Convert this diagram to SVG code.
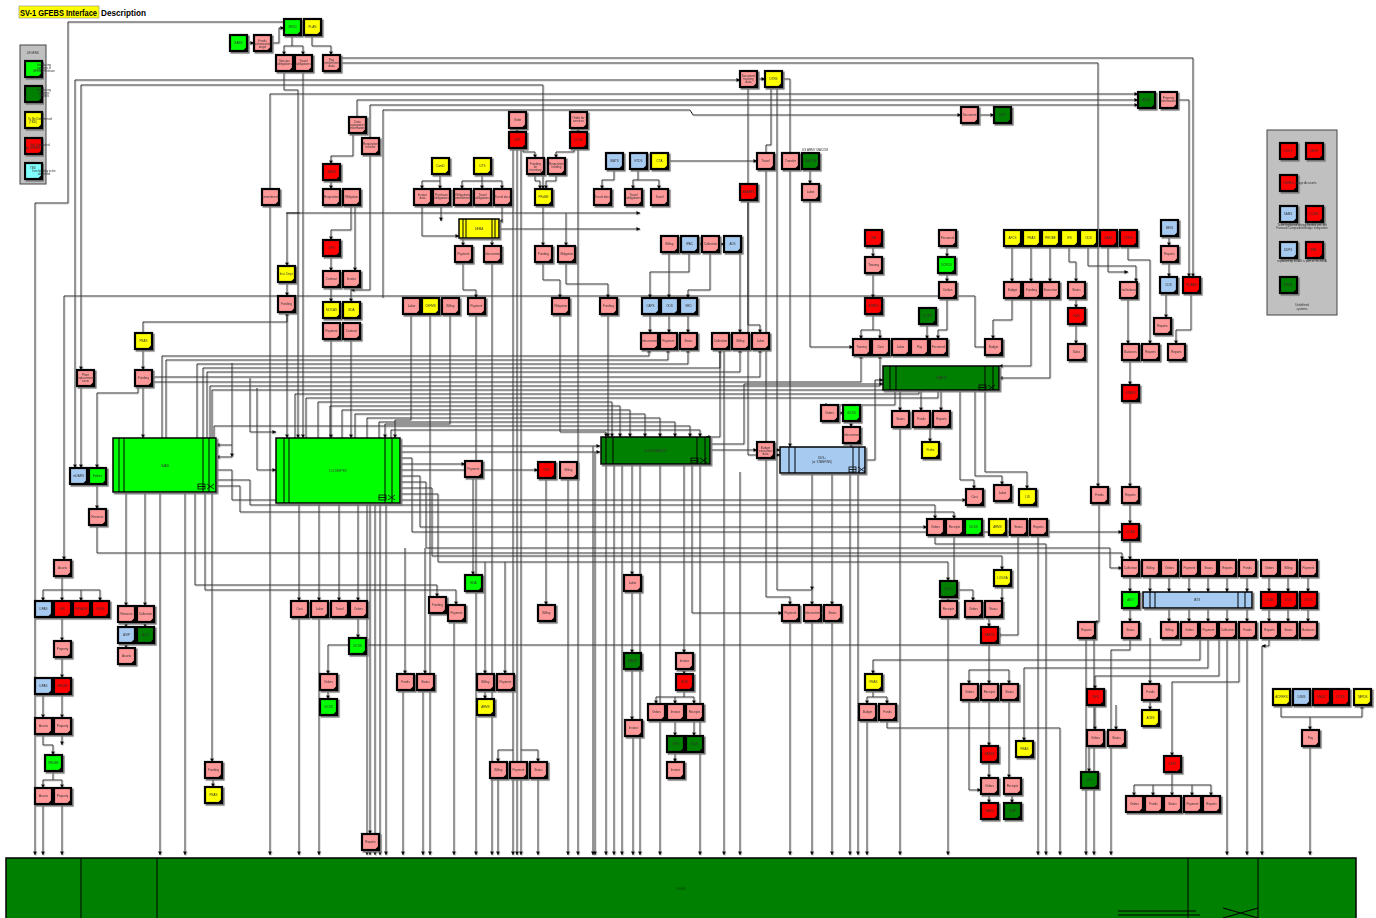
<svg xmlns="http://www.w3.org/2000/svg" xmlns:xlink="http://www.w3.org/1999/xlink" width="1376" height="918" viewBox="0 0 1376 918">
<style>
.p{fill:#f99}.r{fill:#f00}.y{fill:#ff0}.g{fill:#0f0}.d{fill:#008000}.b{fill:#a6caf0}.c{fill:#80ffff}
.t{font-family:"Liberation Sans",Arial,sans-serif;font-size:3px;fill:#333;text-anchor:middle}
.bt{font-family:"Liberation Sans",Arial,sans-serif;font-size:4px;fill:#333;text-anchor:middle}
.big{stroke:#000;stroke-width:1.5}
.il{stroke:#000;stroke-width:1;fill:none}
#connectors{fill:none;stroke:#000;stroke-width:1;marker-end:url(#a)}
</style>
<defs>
<filter id="ds" x="-5%" y="-5%" width="115%" height="115%"><feDropShadow dx="1.6" dy="1.6" stdDeviation="0.5" flood-color="#777"/></filter>
<filter id="ls"><feDropShadow dx="0.7" dy="0.7" stdDeviation="0.2" flood-color="#bbb"/></filter>
<marker id="a" markerWidth="4" markerHeight="4" refX="3.6" refY="2" orient="auto" markerUnits="userSpaceOnUse"><path d="M0,0 L4,2 L0,4Z" fill="#000"/></marker>
<g id="bx"><rect x="0" y="0" width="17" height="16" stroke="#000" stroke-width="2.2"/><path d="M12.5,16 L17,11.5 V16Z" fill="#000"/></g>
<g id="ic"><rect x="0" y="0" width="7" height="5" fill="none" stroke="#000" stroke-width="0.8"/><line x1="0" y1="2.5" x2="7" y2="2.5" stroke="#000" stroke-width="0.8"/><path d="M9,0 L16,5 M9,5 L16,0" stroke="#000" stroke-width="0.8"/></g>
</defs>
<rect width="1376" height="918" fill="#fff"/>

<g id="title">
<rect x="19" y="6" width="80" height="12" fill="#ff0" stroke="#888" stroke-width="0.6"/>
<text x="20" y="15.5" textLength="77" lengthAdjust="spacingAndGlyphs" style="font-family:'Liberation Sans',Arial,sans-serif;font-size:8.2px;font-weight:bold">SV-1 GFEBS Interface</text>
<text x="101" y="15.5" style="font-family:'Liberation Sans',Arial,sans-serif;font-size:8.2px;font-weight:bold">Description</text>
</g>

<g id="connectors" filter="url(#ls)">
<path d="M284,22 H68 V203 H35 V855"/>
<path d="M271,43 H279 V28 H284"/>
<path d="M246,43 H254"/>
<path d="M292,36 V46 H284 V55"/>
<path d="M292,46 H303 V55"/>
<path d="M312,36 V46 H331 V55"/>
<path d="M340,58 H1193 V277"/>
<path d="M340,63 H1098 V487"/>
<path d="M75,80 H740" />
<path d="M75,80 V468"/>
<path d="M81,85 H543 V189"/>
<path d="M81,85 V370"/>
<path d="M284,71 V90 H298 V438"/>
<path d="M303,71 V438"/>
<path d="M270,189 V94 H1138"/>
<path d="M357,117 V100 H1138"/>
<path d="M370,138 V105 H1138"/>
<path d="M383,298 V110 H690 L693,115 H961"/>
<path d="M757,79 H765"/>
<path d="M748,87 V455 H780"/>
<path d="M771,87 V145 H766 V597 H790 V605"/>
<path d="M777,87 V590 H812 V605"/>
<path d="M782,79 H790 V447"/>
<path d="M1177,100 H1189 V277"/>
<path d="M977,115 H994"/>
<path d="M985,347 H975 V296 H64 V560"/>
<path d="M143,333 V322 H287 V312"/>
<path d="M287,282 V296"/>
<path d="M300,213 H287 V266"/>
<path d="M286,213 H640"/>
<path d="M270,205 V855"/>
<path d="M143,349 V370"/>
<path d="M143,386 V438"/>
<path d="M81,386 V468"/>
<path d="M138,386 V393 H97 V468"/>
<path d="M97,484 V509"/>
<path d="M97,525 V553 H1122 V560"/>
<path d="M162,438 V356 H649 V349"/>
<path d="M166,438 V360 H668 V349"/>
<path d="M197,438 V364 H688 V349"/>
<path d="M203,438 V368 H720 V349"/>
<path d="M207,438 V372 H740 V349"/>
<path d="M151,377 H760 V349"/>
<path d="M151,382 H861 V355"/>
<path d="M210,438 V386 H880 V355"/>
<path d="M212,438 V390 H900 V366"/>
<path d="M295,438 V394 H919 V366"/>
<path d="M306,438 V398 H938 V366"/>
<path d="M318,438 V402 H612 V437"/>
<path d="M330,438 V406 H620 V437"/>
<path d="M342,438 V410 H630 V437"/>
<path d="M355,438 V414 H645 V437"/>
<path d="M367,438 V418 H660 V437"/>
<path d="M379,438 V422 H675 V437"/>
<path d="M214,438 V426 H690 V437"/>
<path d="M391,438 V430 H700 V437"/>
<path d="M232,445 H216"/>
<path d="M232,457 H216"/>
<path d="M232,363 V457"/>
<path d="M250,378 V432 H276"/>
<path d="M257,388 V470 H276"/>
<path d="M331,339 V438"/>
<path d="M351,339 V438"/>
<path d="M287,312 V438"/>
<path d="M411,314 V420 H395 V438"/>
<path d="M430,314 V855"/>
<path d="M450,314 V424 H385 V438"/>
<path d="M476,314 V855"/>
<path d="M560,314 V432 H606 V437"/>
<path d="M608,314 V437"/>
<path d="M650,314 V333"/>
<path d="M669,314 V333"/>
<path d="M688,314 V333"/>
<path d="M720,349 V437 H706"/>
<path d="M513,148 V855"/>
<path d="M517,148 V855"/>
<path d="M521,148 V855"/>
<path d="M578,148 V855"/>
<path d="M463,262 V290 H476 V298"/>
<path d="M492,262 V855"/>
<path d="M543,262 V280 H560 V298"/>
<path d="M566,262 V284 H608 V298"/>
<path d="M669,252 V298"/>
<path d="M689,252 V272 H650 V298"/>
<path d="M710,252 V290 H688 V298"/>
<path d="M740,252 V333"/>
<path d="M810,200 V347 H853"/>
<path d="M748,200 V325 H760 V333"/>
<path d="M331,180 V189"/>
<path d="M353,133 V156 H331 V164"/>
<path d="M351,205 V230 H331 V240"/>
<path d="M355,205 V271"/>
<path d="M331,256 V271"/>
<path d="M331,287 V302"/>
<path d="M351,287 V302"/>
<path d="M370,154 V290 H351"/>
<path d="M517,128 V132"/>
<path d="M578,128 V132"/>
<path d="M523,148 V152 H535 V158"/>
<path d="M574,148 V152 H556 V158"/>
<path d="M535,174 V181 H540 V189"/>
<path d="M556,174 V181 H546 V189"/>
<path d="M440,174 V181 H422 V189"/>
<path d="M440,181 V189"/>
<path d="M482,174 V181 H462 V189"/>
<path d="M482,181 V189"/>
<path d="M482,181 H502 V189"/>
<path d="M614,169 V180 H602 V189"/>
<path d="M638,169 V180 H633 V189"/>
<path d="M638,180 H659 V189"/>
<path d="M667,161 H757"/>
<path d="M799,161 H802"/>
<path d="M810,169 V184"/>
<path d="M422,205 V236 H459"/>
<path d="M441,205 V221"/>
<path d="M502,205 V221 H499"/>
<path d="M499,229 H640"/>
<path d="M463,238 V246"/>
<path d="M492,238 V246"/>
<path d="M543,205 V246"/>
<path d="M566,213 V246"/>
<path d="M678,244 H681"/>
<path d="M698,244 H702"/>
<path d="M719,244 H724"/>
<path d="M873,246 V257"/>
<path d="M947,246 V257"/>
<path d="M873,273 V298"/>
<path d="M947,273 V282"/>
<path d="M947,298 V330 H938 V339"/>
<path d="M873,314 V330 H861 V339"/>
<path d="M873,330 H880 V339"/>
<path d="M927,324 V339"/>
<path d="M1012,246 V282"/>
<path d="M1031,246 V282"/>
<path d="M1050,246 V282"/>
<path d="M1069,246 V262 H1076 V282"/>
<path d="M1088,246 V266 H1136 V282"/>
<path d="M1108,246 V272 H1128"/>
<path d="M1128,246 V260 H1150 V344"/>
<path d="M1076,298 V308"/>
<path d="M1076,324 V344"/>
<path d="M1169,236 V246"/>
<path d="M1169,262 V277"/>
<path d="M1166,293 V318"/>
<path d="M1191,293 V330 H1176 V344"/>
<path d="M1128,298 V344"/>
<path d="M1130,360 V385"/>
<path d="M1130,401 V487"/>
<path d="M1130,503 V524"/>
<path d="M1130,540 V560"/>
<path d="M1012,298 V320 H993 V339"/>
<path d="M1031,298 V366 H999"/>
<path d="M1050,298 V378 H999"/>
<path d="M1150,576 V592"/>
<path d="M1169,576 V592"/>
<path d="M1189,576 V592"/>
<path d="M1208,576 V592"/>
<path d="M1227,576 V592"/>
<path d="M1247,576 V592"/>
<path d="M1269,576 V592"/>
<path d="M1288,576 V592"/>
<path d="M1308,576 V592"/>
<path d="M1130,576 V592"/>
<path d="M1130,608 V622"/>
<path d="M1169,608 V622"/>
<path d="M1189,608 V622"/>
<path d="M1208,608 V622"/>
<path d="M1227,608 V622"/>
<path d="M1247,608 V622"/>
<path d="M1269,608 V622"/>
<path d="M1288,608 V622"/>
<path d="M1308,608 V622"/>
<path d="M1086,638 V855"/>
<path d="M1130,638 V650 H1111 V855"/>
<path d="M1227,638 V855"/>
<path d="M1247,638 V855"/>
<path d="M1262,646 V855"/>
<path d="M1269,638 V646 H1262"/>
<path d="M1181,638 V645 H328 V674"/>
<path d="M1200,638 V660 H873 V674"/>
<path d="M1208,638 V668 H1024 V741"/>
<path d="M1219,638 V676 H1095 V689"/>
<path d="M1239,638 V682 H1172 V756"/>
<path d="M1150,638 V684"/>
<path d="M1095,705 V730"/>
<path d="M1116,705 V730"/>
<path d="M1089,746 V772"/>
<path d="M1150,700 V710"/>
<path d="M1172,772 V785 H1134 V796"/>
<path d="M1172,785 H1211 V796"/>
<path d="M1153,785 V796"/>
<path d="M1172,785 V796"/>
<path d="M1192,785 V796"/>
<path d="M1281,705 V717 H1362 V705"/>
<path d="M1310,717 V730"/>
<path d="M1310,746 V855"/>
<path d="M900,390 V411"/>
<path d="M921,390 V411"/>
<path d="M941,390 V411"/>
<path d="M930,427 V442"/>
<path d="M838,413 H843"/>
<path d="M851,421 V427"/>
<path d="M851,443 V447"/>
<path d="M710,450 H757"/>
<path d="M774,450 H780"/>
<path d="M865,460 H875 V380 H883"/>
<path d="M960,390 V480 H974 V489"/>
<path d="M975,390 V476 H1002 V485"/>
<path d="M985,390 V472 H1027 V489"/>
<path d="M900,427 V855"/>
<path d="M895,390 V405 H829 V405"/>
<path d="M62,576 V590 H43 V601"/>
<path d="M62,590 V601"/>
<path d="M62,590 H81 V601"/>
<path d="M81,590 H100 V601"/>
<path d="M62,617 V641"/>
<path d="M62,657 V678"/>
<path d="M51,686 H54"/>
<path d="M43,694 V718"/>
<path d="M62,694 V718"/>
<path d="M43,734 V745 H53 V755"/>
<path d="M62,734 V745"/>
<path d="M53,771 V780 H43 V788"/>
<path d="M53,780 H62 V788"/>
<path d="M43,804 V855"/>
<path d="M62,804 V855"/>
<path d="M126,492 V606"/>
<path d="M145,492 V606"/>
<path d="M126,622 V627"/>
<path d="M126,643 V648"/>
<path d="M145,622 V627"/>
<path d="M160,492 V855"/>
<path d="M185,492 V855"/>
<path d="M195,492 V585 H437 V597"/>
<path d="M205,492 V590 H456 V605"/>
<path d="M212,492 V762"/>
<path d="M213,778 V787"/>
<path d="M299,503 V601"/>
<path d="M319,503 V601"/>
<path d="M339,503 V601"/>
<path d="M358,503 V601"/>
<path d="M299,617 V855"/>
<path d="M319,617 V855"/>
<path d="M358,617 V638"/>
<path d="M328,690 V699"/>
<path d="M367,503 V855"/>
<path d="M370,503 V834"/>
<path d="M375,503 V855"/>
<path d="M380,503 V855"/>
<path d="M386,503 V855"/>
<path d="M370,850 V855"/>
<path d="M405,548 V674"/>
<path d="M425,548 V674"/>
<path d="M403,690 V855"/>
<path d="M423,690 V855"/>
<path d="M454,621 V855"/>
<path d="M473,477 V575"/>
<path d="M485,562 V674"/>
<path d="M505,562 V674"/>
<path d="M485,690 V699"/>
<path d="M513,750 H498 V762"/>
<path d="M521,750 H538 V762"/>
<path d="M498,778 V855"/>
<path d="M538,778 V855"/>
<path d="M546,478 V605"/>
<path d="M568,478 V855"/>
<path d="M632,464 V575"/>
<path d="M632,591 V653"/>
<path d="M632,669 V720"/>
<path d="M633,736 V855"/>
<path d="M684,464 V653"/>
<path d="M684,669 V674"/>
<path d="M684,690 V697 H656 V704"/>
<path d="M675,697 V704"/>
<path d="M684,697 H694 V704"/>
<path d="M675,720 V736"/>
<path d="M694,720 V736"/>
<path d="M675,752 V762"/>
<path d="M606,464 V855"/>
<path d="M614,464 V855"/>
<path d="M622,464 V855"/>
<path d="M640,464 V855"/>
<path d="M660,464 V855"/>
<path d="M692,464 V613 H782"/>
<path d="M700,464 V855"/>
<path d="M593,446 V855"/>
<path d="M595,452 V855"/>
<path d="M812,473 V590"/>
<path d="M832,473 V605"/>
<path d="M850,473 V855"/>
<path d="M858,473 V855"/>
<path d="M790,621 V855"/>
<path d="M812,621 V855"/>
<path d="M832,621 V855"/>
<path d="M724,349 V855"/>
<path d="M740,472 V855"/>
<path d="M873,690 V697 H867 V704"/>
<path d="M873,697 H887 V704"/>
<path d="M887,720 V728 H1060 V855"/>
<path d="M867,720 V855"/>
<path d="M216,480 H250 V505 H935 V519"/>
<path d="M216,486 H240 V512 H954 V519"/>
<path d="M216,470 H232 V500 H966"/>
<path d="M400,446 H600"/>
<path d="M400,452 H600"/>
<path d="M400,458 H412 V532 H1122"/>
<path d="M400,464 H465"/>
<path d="M400,470 H538"/>
<path d="M400,476 H420 V527 H927"/>
<path d="M400,482 H426 V548 H1110 V568 H1122"/>
<path d="M400,488 H432 V556 H1002 V570"/>
<path d="M400,494 H438 V562 H948 V581"/>
<path d="M710,444 H744 V384 H883"/>
<path d="M948,597 V601"/>
<path d="M1002,586 V601"/>
<path d="M954,535 V590 H973 V601"/>
<path d="M1018,535 V635 H997"/>
<path d="M1038,535 V855"/>
<path d="M935,535 V544 H1046 V855"/>
<path d="M989,617 V627"/>
<path d="M989,643 V670 H969 V684"/>
<path d="M989,670 V684"/>
<path d="M989,670 H1009 V684"/>
<path d="M989,700 V746"/>
<path d="M969,700 V790 H981"/>
<path d="M1009,700 V778"/>
<path d="M989,762 V778"/>
<path d="M989,794 V803"/>
<path d="M1012,794 V803"/>
<path d="M948,617 V855"/>
<path d="M1099,503 V622 H1094"/>
<path d="M1094,622 V855"/>
</g>

<g id="nodes" filter="url(#ds)">
<g id="n1" transform="translate(230,35)"><use href="#bx" class="g"/><text x="8.5" y="9" class="t">EABS</text></g>
<g id="n2" transform="translate(254,35)"><use href="#bx" class="p"/><text x="8.5" y="7" class="t">Funds</text><text x="8.5" y="10" class="t">authorization</text><text x="8.5" y="13" class="t">target</text></g>
<g id="n3" transform="translate(284,19)"><use href="#bx" class="g"/><text x="8.5" y="9" class="t">GFDD</text></g>
<g id="n4" transform="translate(304,19)"><use href="#bx" class="y"/><text x="8.5" y="9" class="t">PLAN</text></g>
<g id="n5" transform="translate(276,55)"><use href="#bx" class="p"/><text x="8.5" y="7" class="t">Non-tax</text><text x="8.5" y="10" class="t">obligations</text></g>
<g id="n6" transform="translate(295,55)"><use href="#bx" class="p"/><text x="8.5" y="7" class="t">Travel</text><text x="8.5" y="10" class="t">obligations</text></g>
<g id="n7" transform="translate(323,55)"><use href="#bx" class="p"/><text x="8.5" y="6" class="t">Pay</text><text x="8.5" y="9" class="t">entitlement</text><text x="8.5" y="12" class="t">data</text></g>
<g id="n8" transform="translate(740,71)"><use href="#bx" class="p"/><text x="8.5" y="6" class="t">Document</text><text x="8.5" y="9" class="t">tracking</text><text x="8.5" y="12" class="t">data</text></g>
<g id="n9" transform="translate(765,71)"><use href="#bx" class="y"/><text x="8.5" y="9" class="t">DTRS</text></g>
<g id="n10" transform="translate(1138,92)"><use href="#bx" class="d"/><text x="8.5" y="9" class="t">AEMS</text></g>
<g id="n11" transform="translate(1160,92)"><use href="#bx" class="p"/><text x="8.5" y="7" class="t">Property</text><text x="8.5" y="10" class="t">information</text></g>
<g id="n12" transform="translate(961,107)"><use href="#bx" class="p"/><text x="8.5" y="9" class="t">Document</text></g>
<g id="n13" transform="translate(994,107)"><use href="#bx" class="d"/><text x="8.5" y="9" class="t">DMT</text></g>
<g id="n14" transform="translate(349,117)"><use href="#bx" class="p"/><text x="8.5" y="6" class="t">Data</text><text x="8.5" y="9" class="t">management</text><text x="8.5" y="12" class="t">information</text></g>
<g id="n15" transform="translate(362,138)"><use href="#bx" class="p"/><text x="8.5" y="7" class="t">Requisition</text><text x="8.5" y="10" class="t">transfer</text></g>
<g id="n16" transform="translate(509,112)"><use href="#bx" class="p"/><text x="8.5" y="9" class="t">Order</text></g>
<g id="n17" transform="translate(509,132)"><use href="#bx" class="r"/><text x="8.5" y="9" class="t">DPS</text></g>
<g id="n18" transform="translate(570,112)"><use href="#bx" class="p"/><text x="8.5" y="7" class="t">Order for</text><text x="8.5" y="10" class="t">services</text></g>
<g id="n19" transform="translate(570,132)"><use href="#bx" class="r"/><text x="8.5" y="9" class="t">CCSS</text></g>
<g id="n20" transform="translate(432,158)"><use href="#bx" class="y"/><text x="8.5" y="9" class="t">ComD</text></g>
<g id="n21" transform="translate(474,158)"><use href="#bx" class="y"/><text x="8.5" y="9" class="t">DTS</text></g>
<g id="n22" transform="translate(527,158)"><use href="#bx" class="p"/><text x="8.5" y="7" class="t">Funding</text><text x="8.5" y="10" class="t">for</text><text x="8.5" y="13" class="t">inventory</text></g>
<g id="n23" transform="translate(548,158)"><use href="#bx" class="p"/><text x="8.5" y="7" class="t">Requisition</text><text x="8.5" y="10" class="t">funding</text></g>
<g id="n24" transform="translate(606,153)"><use href="#bx" class="b"/><text x="8.5" y="9" class="t">IBATS</text></g>
<g id="n25" transform="translate(630,153)"><use href="#bx" class="b"/><text x="8.5" y="9" class="t">ETDS</text></g>
<g id="n26" transform="translate(651,153)"><use href="#bx" class="y"/><text x="8.5" y="9" class="t">CTA</text></g>
<g id="n27" transform="translate(757,153)"><use href="#bx" class="p"/><text x="8.5" y="9" class="t">Travel</text></g>
<g id="n28" transform="translate(782,153)"><use href="#bx" class="p"/><text x="8.5" y="9" class="t">Transfer</text></g>
<g id="n29" transform="translate(802,153)"><use href="#bx" class="d"/><text x="8.5" y="9" class="t">MACOM</text></g>
<g id="n30" transform="translate(323,164)"><use href="#bx" class="r"/><text x="8.5" y="9" class="t">SAMS</text></g>
<g id="n31" transform="translate(262,189)"><use href="#bx" class="p"/><text x="8.5" y="9" class="t">Commitments</text></g>
<g id="n32" transform="translate(323,189)"><use href="#bx" class="p"/><text x="8.5" y="9" class="t">Requisition</text></g>
<g id="n33" transform="translate(343,189)"><use href="#bx" class="p"/><text x="8.5" y="9" class="t">Obligation</text></g>
<g id="n34" transform="translate(414,189)"><use href="#bx" class="p"/><text x="8.5" y="7" class="t">Invoice</text><text x="8.5" y="10" class="t">data</text></g>
<g id="n35" transform="translate(433,189)"><use href="#bx" class="p"/><text x="8.5" y="7" class="t">Purchase</text><text x="8.5" y="10" class="t">obligations</text></g>
<g id="n36" transform="translate(454,189)"><use href="#bx" class="p"/><text x="8.5" y="7" class="t">Obligations</text><text x="8.5" y="10" class="t">commitments</text></g>
<g id="n37" transform="translate(474,189)"><use href="#bx" class="p"/><text x="8.5" y="7" class="t">Travel</text><text x="8.5" y="10" class="t">obligations</text></g>
<g id="n38" transform="translate(494,189)"><use href="#bx" class="p"/><text x="8.5" y="9" class="t">Travel docs</text></g>
<g id="n39" transform="translate(535,189)"><use href="#bx" class="y"/><text x="8.5" y="9" class="t">PRoBE</text></g>
<g id="n40" transform="translate(594,189)"><use href="#bx" class="p"/><text x="8.5" y="9" class="t">Travel docs</text></g>
<g id="n41" transform="translate(625,189)"><use href="#bx" class="p"/><text x="8.5" y="7" class="t">Travel</text><text x="8.5" y="10" class="t">obligations</text></g>
<g id="n42" transform="translate(651,189)"><use href="#bx" class="p"/><text x="8.5" y="9" class="t">Travel</text></g>
<g id="n43" transform="translate(740,184)"><use href="#bx" class="r"/><text x="8.5" y="9" class="t">ATAAPS</text></g>
<g id="n44" transform="translate(802,184)"><use href="#bx" class="p"/><text x="8.5" y="9" class="t">Labor</text></g>
<g id="n45" transform="translate(455,246)"><use href="#bx" class="p"/><text x="8.5" y="9" class="t">Payment</text></g>
<g id="n46" transform="translate(484,246)"><use href="#bx" class="p"/><text x="8.5" y="9" class="t">Disbursement</text></g>
<g id="n47" transform="translate(535,246)"><use href="#bx" class="p"/><text x="8.5" y="9" class="t">Funding</text></g>
<g id="n48" transform="translate(558,246)"><use href="#bx" class="p"/><text x="8.5" y="9" class="t">Obligation</text></g>
<g id="n49" transform="translate(323,240)"><use href="#bx" class="r"/><text x="8.5" y="9" class="t">SPS</text></g>
<g id="n50" transform="translate(661,236)"><use href="#bx" class="p"/><text x="8.5" y="9" class="t">Billing</text></g>
<g id="n51" transform="translate(681,236)"><use href="#bx" class="b"/><text x="8.5" y="9" class="t">IPAC</text></g>
<g id="n52" transform="translate(702,236)"><use href="#bx" class="p"/><text x="8.5" y="9" class="t">Collection</text></g>
<g id="n53" transform="translate(724,236)"><use href="#bx" class="b"/><text x="8.5" y="9" class="t">ADS</text></g>
<g id="n54" transform="translate(865,230)"><use href="#bx" class="r"/><text x="8.5" y="9" class="t">ISM</text></g>
<g id="n55" transform="translate(939,230)"><use href="#bx" class="p"/><text x="8.5" y="9" class="t">Personnel</text></g>
<g id="n56" transform="translate(938,257)"><use href="#bx" class="g"/><text x="8.5" y="9" class="t">DCPDS</text></g>
<g id="n57" transform="translate(865,257)"><use href="#bx" class="p"/><text x="8.5" y="9" class="t">Training</text></g>
<g id="n58" transform="translate(1004,230)"><use href="#bx" class="y"/><text x="8.5" y="9" class="t">AFCS</text></g>
<g id="n59" transform="translate(1023,230)"><use href="#bx" class="y"/><text x="8.5" y="9" class="t">PBAS</text></g>
<g id="n60" transform="translate(1042,230)"><use href="#bx" class="y"/><text x="8.5" y="9" class="t">PROBE</text></g>
<g id="n61" transform="translate(1061,230)"><use href="#bx" class="y"/><text x="8.5" y="9" class="t">IFS</text></g>
<g id="n62" transform="translate(1080,230)"><use href="#bx" class="y"/><text x="8.5" y="9" class="t">ODS</text></g>
<g id="n63" transform="translate(1100,230)"><use href="#bx" class="r"/><text x="8.5" y="9" class="t">DAAS</text></g>
<g id="n64" transform="translate(1120,230)"><use href="#bx" class="r"/><text x="8.5" y="9" class="t">DDRS</text></g>
<g id="n65" transform="translate(1161,220)"><use href="#bx" class="b"/><text x="8.5" y="9" class="t">BEIS</text></g>
<g id="n66" transform="translate(1161,246)"><use href="#bx" class="p"/><text x="8.5" y="9" class="t">Reports</text></g>
<g id="n67" transform="translate(278,266)"><use href="#bx" class="y"/><text x="8.5" y="9" class="t">Inst. Dept.</text></g>
<g id="n68" transform="translate(323,271)"><use href="#bx" class="p"/><text x="8.5" y="9" class="t">Contract</text></g>
<g id="n69" transform="translate(343,271)"><use href="#bx" class="p"/><text x="8.5" y="9" class="t">Invoice</text></g>
<g id="n70" transform="translate(1004,282)"><use href="#bx" class="p"/><text x="8.5" y="9" class="t">Budget</text></g>
<g id="n71" transform="translate(1023,282)"><use href="#bx" class="p"/><text x="8.5" y="9" class="t">Funding</text></g>
<g id="n72" transform="translate(1042,282)"><use href="#bx" class="p"/><text x="8.5" y="9" class="t">Execution</text></g>
<g id="n73" transform="translate(1068,282)"><use href="#bx" class="p"/><text x="8.5" y="9" class="t">Status</text></g>
<g id="n74" transform="translate(1120,282)"><use href="#bx" class="p"/><text x="8.5" y="9" class="t">Trial balance</text></g>
<g id="n75" transform="translate(1160,277)"><use href="#bx" class="b"/><text x="8.5" y="9" class="t">CDS</text></g>
<g id="n76" transform="translate(1183,277)"><use href="#bx" class="r"/><text x="8.5" y="9" class="t">HQARS</text></g>
<g id="n77" transform="translate(939,282)"><use href="#bx" class="p"/><text x="8.5" y="9" class="t">Civilian</text></g>
<g id="n78" transform="translate(278,296)"><use href="#bx" class="p"/><text x="8.5" y="9" class="t">Funding</text></g>
<g id="n79" transform="translate(403,298)"><use href="#bx" class="p"/><text x="8.5" y="9" class="t">Labor</text></g>
<g id="n80" transform="translate(422,298)"><use href="#bx" class="y"/><text x="8.5" y="9" class="t">CEFMS</text></g>
<g id="n81" transform="translate(442,298)"><use href="#bx" class="p"/><text x="8.5" y="9" class="t">Billing</text></g>
<g id="n82" transform="translate(468,298)"><use href="#bx" class="p"/><text x="8.5" y="9" class="t">Payment</text></g>
<g id="n83" transform="translate(552,298)"><use href="#bx" class="p"/><text x="8.5" y="9" class="t">Obligation</text></g>
<g id="n84" transform="translate(600,298)"><use href="#bx" class="p"/><text x="8.5" y="9" class="t">Funding</text></g>
<g id="n85" transform="translate(642,298)"><use href="#bx" class="b"/><text x="8.5" y="9" class="t">CAPS</text></g>
<g id="n86" transform="translate(661,298)"><use href="#bx" class="b"/><text x="8.5" y="9" class="t">ODS</text></g>
<g id="n87" transform="translate(680,298)"><use href="#bx" class="b"/><text x="8.5" y="9" class="t">SRD</text></g>
<g id="n88" transform="translate(323,302)"><use href="#bx" class="y"/><text x="8.5" y="9" class="t">MOCAS</text></g>
<g id="n89" transform="translate(343,302)"><use href="#bx" class="y"/><text x="8.5" y="9" class="t">EDA</text></g>
<g id="n90" transform="translate(323,323)"><use href="#bx" class="p"/><text x="8.5" y="9" class="t">Payment</text></g>
<g id="n91" transform="translate(343,323)"><use href="#bx" class="p"/><text x="8.5" y="9" class="t">Contract</text></g>
<g id="n92" transform="translate(865,298)"><use href="#bx" class="r"/><text x="8.5" y="9" class="t">ATRRS</text></g>
<g id="n93" transform="translate(1068,308)"><use href="#bx" class="r"/><text x="8.5" y="9" class="t">FMS</text></g>
<g id="n94" transform="translate(919,308)"><use href="#bx" class="d"/><text x="8.5" y="9" class="t">DCPS</text></g>
<g id="n95" transform="translate(1154,318)"><use href="#bx" class="p"/><text x="8.5" y="9" class="t">Reports</text></g>
<g id="n96" transform="translate(135,333)"><use href="#bx" class="y"/><text x="8.5" y="9" class="t">PBAS</text></g>
<g id="n97" transform="translate(641,333)"><use href="#bx" class="p"/><text x="8.5" y="9" class="t">Disbursement</text></g>
<g id="n98" transform="translate(660,333)"><use href="#bx" class="p"/><text x="8.5" y="9" class="t">Payment</text></g>
<g id="n99" transform="translate(680,333)"><use href="#bx" class="p"/><text x="8.5" y="9" class="t">Status</text></g>
<g id="n100" transform="translate(712,333)"><use href="#bx" class="p"/><text x="8.5" y="9" class="t">Collection</text></g>
<g id="n101" transform="translate(732,333)"><use href="#bx" class="p"/><text x="8.5" y="9" class="t">Billing</text></g>
<g id="n102" transform="translate(752,333)"><use href="#bx" class="p"/><text x="8.5" y="9" class="t">Labor</text></g>
<g id="n103" transform="translate(853,339)"><use href="#bx" class="p"/><text x="8.5" y="9" class="t">Training</text></g>
<g id="n104" transform="translate(872,339)"><use href="#bx" class="p"/><text x="8.5" y="9" class="t">Cost</text></g>
<g id="n105" transform="translate(892,339)"><use href="#bx" class="p"/><text x="8.5" y="9" class="t">Labor</text></g>
<g id="n106" transform="translate(911,339)"><use href="#bx" class="p"/><text x="8.5" y="9" class="t">Pay</text></g>
<g id="n107" transform="translate(930,339)"><use href="#bx" class="p"/><text x="8.5" y="9" class="t">Personnel</text></g>
<g id="n108" transform="translate(985,339)"><use href="#bx" class="p"/><text x="8.5" y="9" class="t">Budget</text></g>
<g id="n109" transform="translate(1068,344)"><use href="#bx" class="p"/><text x="8.5" y="9" class="t">Sales</text></g>
<g id="n110" transform="translate(1122,344)"><use href="#bx" class="p"/><text x="8.5" y="9" class="t">Balances</text></g>
<g id="n111" transform="translate(1142,344)"><use href="#bx" class="p"/><text x="8.5" y="9" class="t">Reports</text></g>
<g id="n112" transform="translate(1168,344)"><use href="#bx" class="p"/><text x="8.5" y="9" class="t">Reports</text></g>
<g id="n113" transform="translate(77,370)"><use href="#bx" class="p"/><text x="8.5" y="6" class="t">Plant</text><text x="8.5" y="9" class="t">replacement</text><text x="8.5" y="12" class="t">costs</text></g>
<g id="n114" transform="translate(135,370)"><use href="#bx" class="p"/><text x="8.5" y="9" class="t">Funding</text></g>
<g id="n115" transform="translate(1122,385)"><use href="#bx" class="r"/><text x="8.5" y="9" class="t">STARS</text></g>
<g id="n116" transform="translate(821,405)"><use href="#bx" class="p"/><text x="8.5" y="9" class="t">Orders</text></g>
<g id="n117" transform="translate(843,405)"><use href="#bx" class="g"/><text x="8.5" y="9" class="t">GCSS</text></g>
<g id="n118" transform="translate(892,411)"><use href="#bx" class="p"/><text x="8.5" y="9" class="t">Status</text></g>
<g id="n119" transform="translate(913,411)"><use href="#bx" class="p"/><text x="8.5" y="9" class="t">Funds</text></g>
<g id="n120" transform="translate(933,411)"><use href="#bx" class="p"/><text x="8.5" y="9" class="t">Reports</text></g>
<g id="n121" transform="translate(843,427)"><use href="#bx" class="p"/><text x="8.5" y="9" class="t">Disbursement</text></g>
<g id="n122" transform="translate(922,442)"><use href="#bx" class="y"/><text x="8.5" y="9" class="t">Probe</text></g>
<g id="n123" transform="translate(757,442)"><use href="#bx" class="p"/><text x="8.5" y="7" class="t">Budget</text><text x="8.5" y="10" class="t">execution</text><text x="8.5" y="13" class="t">data</text></g>
<g id="n124" transform="translate(70,468)"><use href="#bx" class="b"/><text x="8.5" y="9" class="t">mDARS</text></g>
<g id="n125" transform="translate(89,468)"><use href="#bx" class="g"/><text x="8.5" y="9" class="t">Fedrev</text></g>
<g id="n126" transform="translate(465,461)"><use href="#bx" class="p"/><text x="8.5" y="9" class="t">Payment</text></g>
<g id="n127" transform="translate(538,462)"><use href="#bx" class="r"/><text x="8.5" y="9" class="t">CBS</text></g>
<g id="n128" transform="translate(560,462)"><use href="#bx" class="p"/><text x="8.5" y="9" class="t">Billing</text></g>
<g id="n129" transform="translate(89,509)"><use href="#bx" class="p"/><text x="8.5" y="9" class="t">Revenue</text></g>
<g id="n130" transform="translate(966,489)"><use href="#bx" class="p"/><text x="8.5" y="9" class="t">Cost</text></g>
<g id="n131" transform="translate(994,485)"><use href="#bx" class="p"/><text x="8.5" y="9" class="t">Labor</text></g>
<g id="n132" transform="translate(1019,489)"><use href="#bx" class="y"/><text x="8.5" y="9" class="t">LIS</text></g>
<g id="n133" transform="translate(1091,487)"><use href="#bx" class="p"/><text x="8.5" y="9" class="t">Funds</text></g>
<g id="n134" transform="translate(1122,487)"><use href="#bx" class="p"/><text x="8.5" y="9" class="t">Reports</text></g>
<g id="n135" transform="translate(927,519)"><use href="#bx" class="p"/><text x="8.5" y="9" class="t">Orders</text></g>
<g id="n136" transform="translate(946,519)"><use href="#bx" class="p"/><text x="8.5" y="9" class="t">Receipts</text></g>
<g id="n137" transform="translate(965,519)"><use href="#bx" class="g"/><text x="8.5" y="9" class="t">GCSS</text></g>
<g id="n138" transform="translate(989,519)"><use href="#bx" class="y"/><text x="8.5" y="9" class="t">ARMS</text></g>
<g id="n139" transform="translate(1010,519)"><use href="#bx" class="p"/><text x="8.5" y="9" class="t">Status</text></g>
<g id="n140" transform="translate(1030,519)"><use href="#bx" class="p"/><text x="8.5" y="9" class="t">Reports</text></g>
<g id="n141" transform="translate(1122,524)"><use href="#bx" class="r"/><text x="8.5" y="9" class="t">DCAS</text></g>
<g id="n142" transform="translate(54,560)"><use href="#bx" class="p"/><text x="8.5" y="9" class="t">Assets</text></g>
<g id="n143" transform="translate(1122,560)"><use href="#bx" class="p"/><text x="8.5" y="9" class="t">Collection</text></g>
<g id="n144" transform="translate(1142,560)"><use href="#bx" class="p"/><text x="8.5" y="9" class="t">Billing</text></g>
<g id="n145" transform="translate(1161,560)"><use href="#bx" class="p"/><text x="8.5" y="9" class="t">Orders</text></g>
<g id="n146" transform="translate(1181,560)"><use href="#bx" class="p"/><text x="8.5" y="9" class="t">Payment</text></g>
<g id="n147" transform="translate(1200,560)"><use href="#bx" class="p"/><text x="8.5" y="9" class="t">Status</text></g>
<g id="n148" transform="translate(1219,560)"><use href="#bx" class="p"/><text x="8.5" y="9" class="t">Reports</text></g>
<g id="n149" transform="translate(1239,560)"><use href="#bx" class="p"/><text x="8.5" y="9" class="t">Funds</text></g>
<g id="n150" transform="translate(1261,560)"><use href="#bx" class="p"/><text x="8.5" y="9" class="t">Orders</text></g>
<g id="n151" transform="translate(1280,560)"><use href="#bx" class="p"/><text x="8.5" y="9" class="t">Billing</text></g>
<g id="n152" transform="translate(1300,560)"><use href="#bx" class="p"/><text x="8.5" y="9" class="t">Payment</text></g>
<g id="n153" transform="translate(465,575)"><use href="#bx" class="g"/><text x="8.5" y="9" class="t">EDA</text></g>
<g id="n154" transform="translate(624,575)"><use href="#bx" class="p"/><text x="8.5" y="9" class="t">Labor</text></g>
<g id="n155" transform="translate(940,581)"><use href="#bx" class="d"/><text x="8.5" y="9" class="t">GCSS</text></g>
<g id="n156" transform="translate(994,570)"><use href="#bx" class="y"/><text x="8.5" y="9" class="t">LOGSA</text></g>
<g id="n157" transform="translate(35,601)"><use href="#bx" class="b"/><text x="8.5" y="9" class="t">DPAS</text></g>
<g id="n158" transform="translate(54,601)"><use href="#bx" class="r"/><text x="8.5" y="9" class="t">IFS</text></g>
<g id="n159" transform="translate(73,601)"><use href="#bx" class="r"/><text x="8.5" y="9" class="t">RPLANS</text></g>
<g id="n160" transform="translate(92,601)"><use href="#bx" class="r"/><text x="8.5" y="9" class="t">HQIIS</text></g>
<g id="n161" transform="translate(118,606)"><use href="#bx" class="p"/><text x="8.5" y="9" class="t">Revenue</text></g>
<g id="n162" transform="translate(137,606)"><use href="#bx" class="p"/><text x="8.5" y="9" class="t">Collection</text></g>
<g id="n163" transform="translate(291,601)"><use href="#bx" class="p"/><text x="8.5" y="9" class="t">Cost</text></g>
<g id="n164" transform="translate(311,601)"><use href="#bx" class="p"/><text x="8.5" y="9" class="t">Labor</text></g>
<g id="n165" transform="translate(331,601)"><use href="#bx" class="p"/><text x="8.5" y="9" class="t">Travel</text></g>
<g id="n166" transform="translate(350,601)"><use href="#bx" class="p"/><text x="8.5" y="9" class="t">Orders</text></g>
<g id="n167" transform="translate(429,597)"><use href="#bx" class="p"/><text x="8.5" y="9" class="t">Funding</text></g>
<g id="n168" transform="translate(448,605)"><use href="#bx" class="p"/><text x="8.5" y="9" class="t">Payment</text></g>
<g id="n169" transform="translate(538,605)"><use href="#bx" class="p"/><text x="8.5" y="9" class="t">Billing</text></g>
<g id="n170" transform="translate(782,605)"><use href="#bx" class="p"/><text x="8.5" y="9" class="t">Payment</text></g>
<g id="n171" transform="translate(804,605)"><use href="#bx" class="p"/><text x="8.5" y="9" class="t">Disbursement</text></g>
<g id="n172" transform="translate(824,605)"><use href="#bx" class="p"/><text x="8.5" y="9" class="t">Status</text></g>
<g id="n173" transform="translate(940,601)"><use href="#bx" class="p"/><text x="8.5" y="9" class="t">Receipts</text></g>
<g id="n174" transform="translate(965,601)"><use href="#bx" class="p"/><text x="8.5" y="9" class="t">Orders</text></g>
<g id="n175" transform="translate(985,601)"><use href="#bx" class="p"/><text x="8.5" y="9" class="t">Status</text></g>
<g id="n176" transform="translate(1122,592)"><use href="#bx" class="g"/><text x="8.5" y="9" class="t">AKO</text></g>
<g id="n177" transform="translate(1261,592)"><use href="#bx" class="r"/><text x="8.5" y="9" class="t">DCAS</text></g>
<g id="n178" transform="translate(1280,592)"><use href="#bx" class="r"/><text x="8.5" y="9" class="t">DDS</text></g>
<g id="n179" transform="translate(1300,592)"><use href="#bx" class="r"/><text x="8.5" y="9" class="t">CHOS</text></g>
<g id="n180" transform="translate(118,627)"><use href="#bx" class="b"/><text x="8.5" y="9" class="t">ASIP</text></g>
<g id="n181" transform="translate(137,627)"><use href="#bx" class="d"/><text x="8.5" y="9" class="t">ALIS</text></g>
<g id="n182" transform="translate(1078,622)"><use href="#bx" class="p"/><text x="8.5" y="9" class="t">Reports</text></g>
<g id="n183" transform="translate(1122,622)"><use href="#bx" class="p"/><text x="8.5" y="9" class="t">Status</text></g>
<g id="n184" transform="translate(1161,622)"><use href="#bx" class="p"/><text x="8.5" y="9" class="t">Billing</text></g>
<g id="n185" transform="translate(1181,622)"><use href="#bx" class="p"/><text x="8.5" y="9" class="t">Orders</text></g>
<g id="n186" transform="translate(1200,622)"><use href="#bx" class="p"/><text x="8.5" y="9" class="t">Payment</text></g>
<g id="n187" transform="translate(1219,622)"><use href="#bx" class="p"/><text x="8.5" y="9" class="t">Collection</text></g>
<g id="n188" transform="translate(1239,622)"><use href="#bx" class="p"/><text x="8.5" y="9" class="t">Funds</text></g>
<g id="n189" transform="translate(1261,622)"><use href="#bx" class="p"/><text x="8.5" y="9" class="t">Reports</text></g>
<g id="n190" transform="translate(1280,622)"><use href="#bx" class="p"/><text x="8.5" y="9" class="t">Status</text></g>
<g id="n191" transform="translate(1300,622)"><use href="#bx" class="p"/><text x="8.5" y="9" class="t">Balances</text></g>
<g id="n192" transform="translate(981,627)"><use href="#bx" class="r"/><text x="8.5" y="9" class="t">SARSS</text></g>
<g id="n193" transform="translate(349,638)"><use href="#bx" class="g"/><text x="8.5" y="9" class="t">GCSS</text></g>
<g id="n194" transform="translate(54,641)"><use href="#bx" class="p"/><text x="8.5" y="9" class="t">Property</text></g>
<g id="n195" transform="translate(118,648)"><use href="#bx" class="p"/><text x="8.5" y="9" class="t">Assets</text></g>
<g id="n196" transform="translate(624,653)"><use href="#bx" class="d"/><text x="8.5" y="9" class="t">WAWF</text></g>
<g id="n197" transform="translate(676,653)"><use href="#bx" class="p"/><text x="8.5" y="9" class="t">Invoice</text></g>
<g id="n198" transform="translate(676,674)"><use href="#bx" class="r"/><text x="8.5" y="9" class="t">EDM</text></g>
<g id="n199" transform="translate(320,674)"><use href="#bx" class="p"/><text x="8.5" y="9" class="t">Orders</text></g>
<g id="n200" transform="translate(397,674)"><use href="#bx" class="p"/><text x="8.5" y="9" class="t">Funds</text></g>
<g id="n201" transform="translate(417,674)"><use href="#bx" class="p"/><text x="8.5" y="9" class="t">Status</text></g>
<g id="n202" transform="translate(477,674)"><use href="#bx" class="p"/><text x="8.5" y="9" class="t">Billing</text></g>
<g id="n203" transform="translate(497,674)"><use href="#bx" class="p"/><text x="8.5" y="9" class="t">Payment</text></g>
<g id="n204" transform="translate(865,674)"><use href="#bx" class="y"/><text x="8.5" y="9" class="t">PBAS</text></g>
<g id="n205" transform="translate(35,678)"><use href="#bx" class="b"/><text x="8.5" y="9" class="t">DPAS</text></g>
<g id="n206" transform="translate(54,678)"><use href="#bx" class="r"/><text x="8.5" y="9" class="t">PBUSE</text></g>
<g id="n207" transform="translate(961,684)"><use href="#bx" class="p"/><text x="8.5" y="9" class="t">Orders</text></g>
<g id="n208" transform="translate(981,684)"><use href="#bx" class="p"/><text x="8.5" y="9" class="t">Receipts</text></g>
<g id="n209" transform="translate(1001,684)"><use href="#bx" class="p"/><text x="8.5" y="9" class="t">Status</text></g>
<g id="n210" transform="translate(1087,689)"><use href="#bx" class="r"/><text x="8.5" y="9" class="t">SIFS</text></g>
<g id="n211" transform="translate(1142,684)"><use href="#bx" class="p"/><text x="8.5" y="9" class="t">Funds</text></g>
<g id="n212" transform="translate(1273,689)"><use href="#bx" class="y"/><text x="8.5" y="9" class="t">ACPERS</text></g>
<g id="n213" transform="translate(1293,689)"><use href="#bx" class="b"/><text x="8.5" y="9" class="t">DJMS</text></g>
<g id="n214" transform="translate(1313,689)"><use href="#bx" class="r"/><text x="8.5" y="9" class="t">DMDC</text></g>
<g id="n215" transform="translate(1332,689)"><use href="#bx" class="r"/><text x="8.5" y="9" class="t">DCPS</text></g>
<g id="n216" transform="translate(1354,689)"><use href="#bx" class="y"/><text x="8.5" y="9" class="t">TAPDB</text></g>
<g id="n217" transform="translate(320,699)"><use href="#bx" class="g"/><text x="8.5" y="9" class="t">GCSS</text></g>
<g id="n218" transform="translate(477,699)"><use href="#bx" class="y"/><text x="8.5" y="9" class="t">ARMS</text></g>
<g id="n219" transform="translate(648,704)"><use href="#bx" class="p"/><text x="8.5" y="9" class="t">Orders</text></g>
<g id="n220" transform="translate(667,704)"><use href="#bx" class="p"/><text x="8.5" y="9" class="t">Invoice</text></g>
<g id="n221" transform="translate(686,704)"><use href="#bx" class="p"/><text x="8.5" y="9" class="t">Receipts</text></g>
<g id="n222" transform="translate(859,704)"><use href="#bx" class="p"/><text x="8.5" y="9" class="t">Budget</text></g>
<g id="n223" transform="translate(879,704)"><use href="#bx" class="p"/><text x="8.5" y="9" class="t">Funds</text></g>
<g id="n224" transform="translate(1087,730)"><use href="#bx" class="p"/><text x="8.5" y="9" class="t">Orders</text></g>
<g id="n225" transform="translate(1108,730)"><use href="#bx" class="p"/><text x="8.5" y="9" class="t">Status</text></g>
<g id="n226" transform="translate(1142,710)"><use href="#bx" class="y"/><text x="8.5" y="9" class="t">ACES</text></g>
<g id="n227" transform="translate(35,718)"><use href="#bx" class="p"/><text x="8.5" y="9" class="t">Assets</text></g>
<g id="n228" transform="translate(54,718)"><use href="#bx" class="p"/><text x="8.5" y="9" class="t">Property</text></g>
<g id="n229" transform="translate(625,720)"><use href="#bx" class="p"/><text x="8.5" y="9" class="t">Invoice</text></g>
<g id="n230" transform="translate(667,736)"><use href="#bx" class="d"/><text x="8.5" y="9" class="t">GEX</text></g>
<g id="n231" transform="translate(686,736)"><use href="#bx" class="d"/><text x="8.5" y="9" class="t">EDA</text></g>
<g id="n232" transform="translate(1302,730)"><use href="#bx" class="p"/><text x="8.5" y="9" class="t">Pay</text></g>
<g id="n233" transform="translate(1016,741)"><use href="#bx" class="y"/><text x="8.5" y="9" class="t">PBAS</text></g>
<g id="n234" transform="translate(981,746)"><use href="#bx" class="r"/><text x="8.5" y="9" class="t">SARSS</text></g>
<g id="n235" transform="translate(45,755)"><use href="#bx" class="g"/><text x="8.5" y="9" class="t">PBUSE</text></g>
<g id="n236" transform="translate(205,762)"><use href="#bx" class="p"/><text x="8.5" y="9" class="t">Funding</text></g>
<g id="n237" transform="translate(490,762)"><use href="#bx" class="p"/><text x="8.5" y="9" class="t">Billing</text></g>
<g id="n238" transform="translate(510,762)"><use href="#bx" class="p"/><text x="8.5" y="9" class="t">Payment</text></g>
<g id="n239" transform="translate(530,762)"><use href="#bx" class="p"/><text x="8.5" y="9" class="t">Status</text></g>
<g id="n240" transform="translate(667,762)"><use href="#bx" class="p"/><text x="8.5" y="9" class="t">Invoice</text></g>
<g id="n241" transform="translate(1164,756)"><use href="#bx" class="r"/><text x="8.5" y="9" class="t">CEFT</text></g>
<g id="n242" transform="translate(1081,772)"><use href="#bx" class="d"/><text x="8.5" y="9" class="t">SPS</text></g>
<g id="n243" transform="translate(981,778)"><use href="#bx" class="p"/><text x="8.5" y="9" class="t">Orders</text></g>
<g id="n244" transform="translate(1004,778)"><use href="#bx" class="p"/><text x="8.5" y="9" class="t">Receipts</text></g>
<g id="n245" transform="translate(205,787)"><use href="#bx" class="y"/><text x="8.5" y="9" class="t">PBAS</text></g>
<g id="n246" transform="translate(35,788)"><use href="#bx" class="p"/><text x="8.5" y="9" class="t">Assets</text></g>
<g id="n247" transform="translate(54,788)"><use href="#bx" class="p"/><text x="8.5" y="9" class="t">Property</text></g>
<g id="n248" transform="translate(1126,796)"><use href="#bx" class="p"/><text x="8.5" y="9" class="t">Orders</text></g>
<g id="n249" transform="translate(1145,796)"><use href="#bx" class="p"/><text x="8.5" y="9" class="t">Funds</text></g>
<g id="n250" transform="translate(1164,796)"><use href="#bx" class="p"/><text x="8.5" y="9" class="t">Status</text></g>
<g id="n251" transform="translate(1184,796)"><use href="#bx" class="p"/><text x="8.5" y="9" class="t">Payment</text></g>
<g id="n252" transform="translate(1203,796)"><use href="#bx" class="p"/><text x="8.5" y="9" class="t">Reports</text></g>
<g id="n253" transform="translate(981,803)"><use href="#bx" class="r"/><text x="8.5" y="9" class="t">SAMS</text></g>
<g id="n254" transform="translate(1004,803)"><use href="#bx" class="d"/><text x="8.5" y="9" class="t">ILAP</text></g>
<g id="n255" transform="translate(362,834)"><use href="#bx" class="p"/><text x="8.5" y="9" class="t">Reports</text></g>

<g id="sas"><rect x="113" y="438" width="103" height="54" class="big g"/><path class="il" d="M119,438 V492 M124,438 V492 M203,438 V492 M209,438 V492"/><use href="#ic" x="198" y="484"/><text x="165" y="467" class="bt">SAS</text></g>
<g id="icoe"><rect x="276" y="438" width="124" height="65" class="big g"/><path class="il" d="M284,438 V503 M289,438 V503 M385,438 V503 M392,438 V503"/><use href="#ic" x="379" y="495"/><text x="338" y="472" class="bt">ICOE/PKI</text></g>
<g id="gcss"><rect x="601" y="437" width="109" height="27" class="big d"/><path class="il" d="M606,437 V464 M613,437 V464 M697,437 V464 M705,437 V464"/><use href="#ic" x="691" y="458"/><text x="656" y="451.5" class="bt">GCSSARMY</text></g>
<g id="gafs"><rect x="883" y="366" width="116" height="24" class="big d"/><path class="il" d="M890,366 V390 M896,366 V390 M985,366 V390 M993,366 V390"/><use href="#ic" x="979" y="385"/><text x="941" y="379" class="bt">GAFS</text></g>
<g id="ddsplus"><rect x="780" y="447" width="85" height="26" class="big b"/><path class="il" d="M789,447 V473 M795,447 V473 M853,447 V473 M859,447 V473"/><use href="#ic" x="849" y="467"/><text x="822" y="459" class="t">DDS+</text><text x="822" y="463" class="t">(or STANFINS)</text></g>
<g id="iats"><rect x="1143" y="592" width="109" height="16" class="big b"/><path class="il" d="M1150,592 V608 M1155,592 V608 M1238,592 V608 M1245,592 V608"/><text x="1197" y="601" class="t">IATS</text></g>
<g id="dema"><rect x="459" y="219" width="40" height="19" class="big y"/><path class="il" d="M463,219 V238 M466,219 V238 M492,219 V238 M495,219 V238"/><text x="479" y="230" class="t">DEMA</text></g>
</g>

<g id="dfas">
<rect x="6" y="858" width="1350" height="70" fill="#008000" stroke="#000" stroke-width="1.5"/>
<path d="M81,858 V918 M157,858 V918 M1188,858 V918 M1258,858 V918" stroke="#000" stroke-width="1" fill="none"/>
<path d="M1118,911 H1196 M1118,915 H1200 M1223,908 L1258,918 M1223,918 L1258,908" stroke="#000" stroke-width="1.2" fill="none"/>
<text x="681" y="890" class="bt" style="fill:#004d00">DFAS</text>
</g>

<g id="legend-left">
<rect x="20" y="45" width="26" height="139" fill="#c0c0c0" stroke="#444" stroke-width="1"/>
<text x="33" y="54" class="t">LEGEND</text>
<g filter="url(#ds)">
<use href="#bx" class="g" x="25" y="61"/>
<use href="#bx" class="d" x="25" y="86"/>
<use href="#bx" class="y" x="25" y="112"/>
<use href="#bx" class="r" x="25" y="138"/>
<use href="#bx" class="c" x="25" y="163"/>
</g>
<text x="44" y="66" class="t">Interfacing</text><text x="44" y="69" class="t">systems in</text><text x="44" y="72" class="t">GFEBS Release</text>
<text x="44" y="91" class="t">Interfacing</text><text x="44" y="94" class="t">systems</text><text x="44" y="97" class="t">GFEBS</text>
<text x="40" y="120" class="t">To Be Determined</text><text x="33" y="123" class="t">(TBD)</text>
<text x="40" y="146" class="t">Not Supported</text><text x="33" y="149" class="t">by GFEBS</text>
<text x="33" y="169" class="t">TBD</text><text x="44" y="172" class="t">functionality to be</text><text x="44" y="175" class="t">absorbed</text>
</g>

<g id="legend-right">
<rect x="1267" y="130" width="70" height="185" fill="#c0c0c0" stroke="#444" stroke-width="1"/>
<g filter="url(#ds)">
<use href="#bx" class="r" x="1280" y="143"/>
<use href="#bx" class="r" x="1306" y="143"/>
<use href="#bx" class="r" x="1280" y="175"/>
<use href="#bx" class="b" x="1280" y="206"/>
<use href="#bx" class="r" x="1306" y="206"/>
<use href="#bx" class="b" x="1280" y="242"/>
<use href="#bx" class="r" x="1306" y="242"/>
<use href="#bx" class="d" x="1280" y="277"/>
</g>
<text x="1288" y="152" class="t">DDS II</text><text x="1314" y="152" class="t">CHOS</text>
<text x="1300" y="184" class="t">DEPA-C usage Accounts</text>
<text x="1288" y="215" class="t">SAMS</text><text x="1314" y="215" class="t">DCMS</text>
<text x="1302" y="226" class="t">To be replaced/retired/funded yet, but</text>
<text x="1302" y="229" class="t">Forward Compatible/Bridge integration</text>
<text x="1288" y="251" class="t">DDPS</text><text x="1314" y="251" class="t">IPAC</text>
<text x="1302" y="262" class="t">replaced by DCAS is part of GCSS-A</text>
<text x="1288" y="286" class="t">PROB</text>
<text x="1302" y="306" class="t">Undefined</text><text x="1302" y="309.5" class="t">systems</text>
<text x="815" y="151" class="t">US ARMY MACOM</text>
</g>
</svg>
